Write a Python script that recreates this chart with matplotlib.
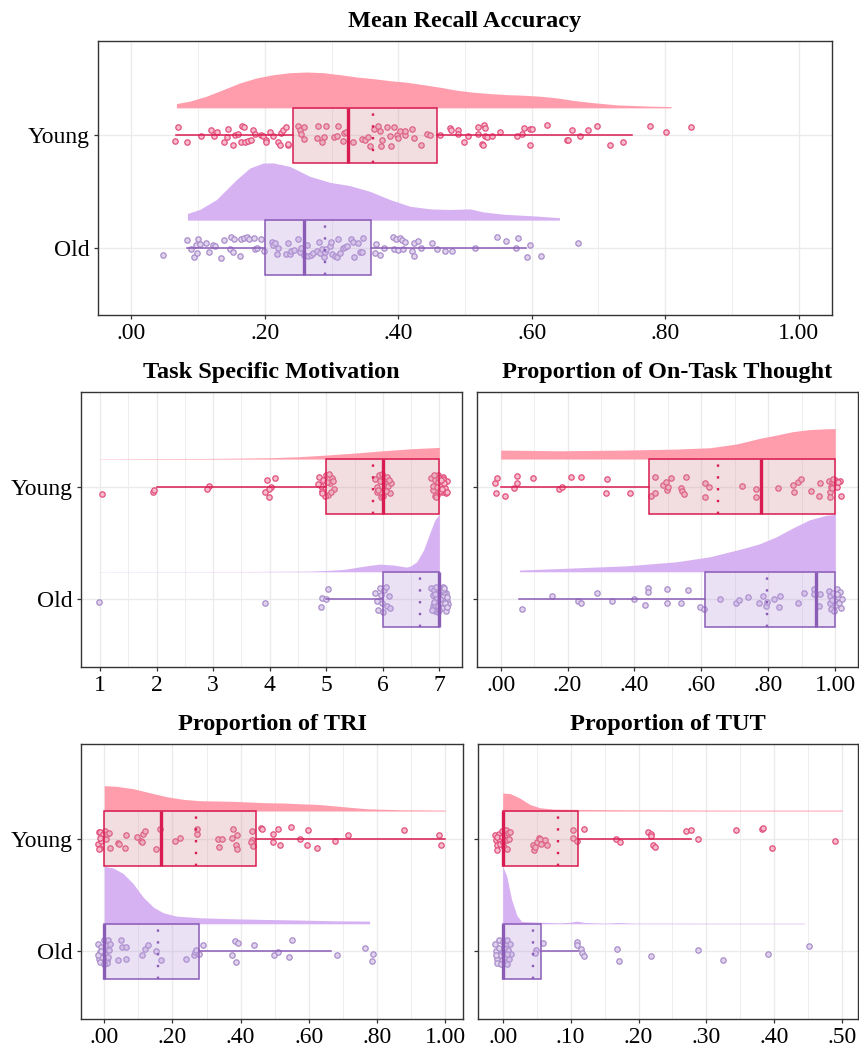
import numpy as np
import matplotlib.pyplot as plt

plt.rcParams['font.family'] = ['Liberation Serif', 'DejaVu Serif']

groups = ["Young", "Old"]

# ---- Mean Recall Accuracy: (score, vertical jitter) ----
mra_young_pts = [
    (0.070, 0.071), (0.065, -0.048), (0.084, -0.063), (0.104, -0.003), (0.119, 0.051),
    (0.124, -0.009), (0.128, 0.027), (0.139, -0.060), (0.143, -0.015), (0.145, 0.057),
    (0.153, -0.089), (0.156, 0.006), (0.160, 0.012), (0.166, 0.086), (0.169, 0.074),
    (0.165, -0.063), (0.170, -0.063), (0.175, -0.054), (0.179, -0.045), (0.183, 0.045),
    (0.186, 0.012), (0.194, 0.006), (0.198, -0.003), (0.202, -0.039), (0.202, -0.060),
    (0.208, 0.030), (0.212, -0.003), (0.220, -0.060), (0.222, -0.089), (0.224, 0.021),
    (0.227, 0.051), (0.232, 0.071), (0.235, -0.089), (0.235, -0.074), (0.250, 0.086),
    (0.253, 0.051), (0.254, 0.015), (0.259, 0.071), (0.258, -0.033), (0.279, 0.080),
    (0.291, 0.086), (0.278, -0.024), (0.288, -0.015), (0.285, -0.063), (0.303, -0.015),
    (0.309, 0.080), (0.308, -0.003), (0.317, -0.054), (0.319, 0.021), (0.322, 0.030),
    (0.332, -0.063), (0.345, -0.033), (0.350, -0.045), (0.354, -0.018), (0.357, -0.098),
    (0.364, 0.057), (0.369, 0.080), (0.373, 0.042), (0.375, -0.039), (0.374, -0.092),
    (0.383, 0.071), (0.388, -0.009), (0.389, -0.098), (0.394, 0.074), (0.398, 0.006),
    (0.399, -0.024), (0.402, 0.036), (0.410, 0.000), (0.410, 0.036), (0.420, 0.057),
    (0.423, -0.024), (0.434, -0.089), (0.443, 0.015), (0.448, 0.006), (0.462, 0.000),
    (0.478, 0.065), (0.479, 0.051), (0.490, 0.051), (0.490, 0.012), (0.498, -0.060),
    (0.505, -0.009), (0.520, 0.071), (0.520, 0.012), (0.525, -0.074), (0.527, -0.083),
    (0.529, 0.095), (0.530, 0.065), (0.530, -0.009), (0.533, -0.015), (0.540, -0.009),
    (0.553, 0.027), (0.578, -0.009), (0.585, 0.015), (0.588, 0.065), (0.597, 0.057),
    (0.600, 0.057), (0.597, -0.089), (0.623, 0.095), (0.653, -0.045), (0.655, -0.045),
    (0.660, 0.045), (0.672, -0.009), (0.685, 0.051), (0.698, 0.080), (0.718, -0.083),
    (0.737, -0.063), (0.777, 0.080), (0.801, 0.033), (0.838, 0.074),
]
mra_old_pts = [
    (0.048, -0.065), (0.084, 0.068), (0.090, -0.015), (0.094, -0.080), (0.097, 0.021),
    (0.099, -0.045), (0.100, 0.080), (0.103, 0.030), (0.112, 0.045), (0.117, -0.036),
    (0.123, 0.024), (0.125, 0.015), (0.135, -0.089), (0.139, 0.065), (0.148, -0.015),
    (0.149, 0.095), (0.153, -0.036), (0.154, 0.074), (0.163, -0.074), (0.164, 0.080),
    (0.169, 0.089), (0.173, 0.095), (0.177, 0.080), (0.184, 0.089), (0.185, -0.009),
    (0.188, 0.000), (0.195, 0.074), (0.199, -0.030), (0.210, 0.051), (0.212, 0.021),
    (0.215, 0.045), (0.218, -0.060), (0.219, 0.000), (0.232, -0.060), (0.235, 0.045),
    (0.238, -0.060), (0.239, -0.030), (0.243, -0.021), (0.250, 0.080), (0.253, -0.039),
    (0.254, 0.000), (0.258, -0.068), (0.263, 0.021), (0.265, -0.074), (0.269, -0.068),
    (0.272, -0.051), (0.278, -0.030), (0.281, 0.051), (0.283, -0.045), (0.285, -0.009),
    (0.288, -0.080), (0.290, -0.036), (0.292, -0.009), (0.297, 0.015), (0.299, 0.051),
    (0.300, -0.060), (0.305, -0.074), (0.308, -0.080), (0.309, 0.074), (0.313, -0.051),
    (0.317, 0.000), (0.320, 0.009), (0.323, 0.015), (0.329, 0.080), (0.332, 0.051),
    (0.334, -0.080), (0.339, 0.045), (0.343, -0.039), (0.345, -0.036), (0.347, 0.089),
    (0.367, 0.036), (0.365, -0.051), (0.373, -0.065), (0.378, 0.000), (0.392, 0.095),
    (0.393, -0.009), (0.397, 0.080), (0.399, -0.021), (0.403, 0.089), (0.405, 0.068),
    (0.407, -0.015), (0.410, 0.054), (0.420, -0.030), (0.423, 0.045), (0.424, -0.074),
    (0.430, 0.060), (0.434, 0.000), (0.450, 0.045), (0.458, -0.015), (0.470, -0.030),
    (0.480, -0.030), (0.515, 0.000), (0.548, 0.095), (0.562, 0.060), (0.577, 0.000),
    (0.580, 0.089), (0.593, -0.080), (0.597, 0.021), (0.614, -0.074), (0.669, 0.045),
]
# box summaries: whisker low, q1, median, q3, whisker high, mean
mra_young_box = [0.0675, 0.2425, 0.325, 0.4585, 0.750, 0.3625]
mra_old_box = [0.084, 0.200, 0.258, 0.359, 0.592, 0.2905]
# density curves: score grid and density scaled to the panel's tallest peak
mra_young_dx = [0.0675, 0.0875, 0.1125, 0.1375, 0.1625, 0.1875, 0.2125, 0.2375, 0.2625,
                0.2875, 0.3125, 0.3375, 0.3625, 0.3875, 0.4125, 0.4375, 0.4625, 0.4875,
                0.5125, 0.5375, 0.5625, 0.5875, 0.6125, 0.6375, 0.6625, 0.6875, 0.7275,
                0.7775, 0.8085]
mra_young_dy = [0.075, 0.117, 0.203, 0.318, 0.435, 0.522, 0.579, 0.614, 0.626,
                0.614, 0.579, 0.539, 0.510, 0.475, 0.447, 0.405, 0.360, 0.308,
                0.273, 0.249, 0.231, 0.221, 0.203, 0.174, 0.130, 0.096, 0.052,
                0.030, 0.023]
mra_old_dx = [0.084, 0.1024, 0.1275, 0.1425, 0.1575, 0.1775, 0.1974, 0.2124, 0.2374,
              0.2674, 0.2974, 0.3274, 0.3574, 0.3874, 0.4174, 0.4474, 0.4774, 0.5074,
              0.5275, 0.5575, 0.6025, 0.6415]
mra_old_dy = [0.117, 0.186, 0.360, 0.534, 0.708, 0.910, 0.997, 1.000, 0.939,
              0.765, 0.661, 0.603, 0.504, 0.360, 0.243, 0.197, 0.186, 0.197,
              0.144, 0.104, 0.075, 0.043]

# ---- Task Specific Motivation ----
tsm_young_pts = [
    (1.03, -0.065), (1.93, -0.050), (1.95, -0.030), (2.92, 0.010), (2.90, -0.020),
    (3.95, 0.060), (4.09, 0.080), (4.03, -0.006), (3.98, -0.020), (3.91, -0.050),
    (3.99, -0.090),
    (4.88, 0.09), (4.92, -0.04), (4.95, 0.06), (4.99, 0.10), (5.03, -0.07), (5.07, 0.03),
    (5.11, 0.08), (5.14, -0.02), (4.90, 0.01), (4.97, -0.08), (5.05, 0.11), (5.12, 0.05),
    (4.93, -0.06), (5.01, 0.04), (5.09, -0.05), (4.86, 0.02),
    (5.87, 0.07), (5.90, -0.05), (5.93, 0.10), (5.96, -0.09), (6.00, 0.04), (6.03, -0.02),
    (6.06, 0.08), (6.10, 0.01), (6.13, -0.06), (5.89, 0.00), (5.95, 0.05), (6.01, -0.08),
    (6.08, 0.09), (6.14, 0.03), (5.92, -0.03), (5.98, 0.11), (6.05, -0.04), (6.11, 0.06),
    (6.86, 0.08), (6.89, -0.03), (6.92, 0.06), (6.95, -0.07), (6.98, 0.10), (7.01, 0.02),
    (7.04, -0.05), (7.07, 0.09), (7.10, -0.01), (7.13, 0.05), (6.88, 0.01), (6.93, -0.08),
    (6.97, 0.04), (7.02, -0.04), (7.06, 0.07), (7.11, -0.06), (6.90, 0.10), (6.96, 0.00),
    (7.00, 0.08), (7.05, -0.02), (7.09, 0.03), (7.14, -0.05), (6.94, -0.09), (7.03, 0.06),
]
tsm_old_pts = [
    (0.98, -0.020), (3.92, -0.035), (5.04, 0.090), (4.92, 0.010), (5.00, 0.000),
    (4.91, -0.065),
    (5.87, 0.06), (5.91, -0.09), (5.95, 0.10), (5.99, -0.03), (6.03, 0.08), (6.07, -0.06),
    (6.11, 0.03), (5.89, -0.01), (5.97, 0.04), (6.05, 0.11), (6.13, -0.08), (6.01, -0.11),
    (6.86, 0.10), (6.88, -0.06), (6.90, 0.03), (6.92, -0.10), (6.94, 0.07), (6.96, -0.02),
    (6.98, 0.09), (7.00, -0.08), (7.02, 0.05), (7.04, -0.04), (7.06, 0.11), (7.08, 0.00),
    (7.10, -0.07), (7.12, 0.06), (7.14, -0.01), (6.87, -0.09), (6.89, 0.04), (6.91, 0.08),
    (6.93, -0.05), (6.95, 0.01), (6.97, -0.11), (6.99, 0.06), (7.01, 0.09), (7.03, -0.03),
    (7.05, -0.08), (7.07, 0.03), (7.09, 0.07), (7.11, -0.10), (7.13, 0.02), (7.15, -0.04),
    (6.90, -0.02), (6.94, 0.11), (6.98, -0.06), (7.02, 0.00), (7.06, 0.08), (7.10, -0.03),
    (6.92, 0.05), (7.00, -0.09), (7.08, 0.10), (7.13, -0.07),
]
tsm_young_box = [2.0, 5.0, 6.0, 7.0, 7.0, 5.83]
tsm_old_box = [5.0, 6.0, 7.0, 7.0, 7.0, 6.65]
tsm_young_dx = [1.0, 2.0, 3.0, 3.5, 4.0, 4.5, 5.0, 5.5, 6.0, 6.5, 7.0]
tsm_young_dy = [0.005, 0.009, 0.012, 0.017, 0.023, 0.040, 0.070, 0.104, 0.144, 0.179, 0.203]
tsm_old_dx = [1.0, 3.5, 4.71, 5.0, 5.30, 5.60, 5.75, 5.95, 6.19, 6.42, 6.50, 6.60, 6.72,
              6.84, 6.92, 7.0]
tsm_old_dy = [0.003, 0.005, 0.012, 0.023, 0.040, 0.087, 0.110, 0.134, 0.117, 0.082, 0.104,
              0.174, 0.377, 0.696, 0.899, 1.000]

# ---- Proportion of On-Task Thought ----
ott_young_pts = [
    (-0.017, 0.035), (-0.012, 0.074), (-0.014, -0.059), (0.013, -0.080), (0.040, -0.015),
    (0.048, 0.097), (0.050, 0.029), (0.098, 0.074), (0.175, -0.024), (0.182, -0.006),
    (0.210, 0.086), (0.240, 0.083), (0.319, 0.065), (0.316, -0.059), (0.388, -0.059),
    (0.448, -0.080), (0.461, -0.059), (0.461, 0.088), (0.486, 0.015), (0.494, 0.044),
    (0.498, -0.029), (0.500, 0.000), (0.508, 0.080), (0.540, -0.009), (0.543, -0.038),
    (0.547, -0.065), (0.553, 0.083), (0.610, 0.035), (0.610, -0.088), (0.623, -0.006),
    (0.722, 0.006), (0.762, -0.024), (0.762, -0.094), (0.829, -0.015), (0.874, 0.015),
    (0.877, -0.044), (0.889, 0.044), (0.899, 0.065), (0.928, -0.038), (0.953, 0.029),
    (0.950, -0.080), (0.981, 0.053), (0.983, -0.044), (0.985, -0.088), (0.988, 0.000),
    (0.991, 0.044), (0.995, 0.029), (0.998, 0.059), (1.001, 0.015), (1.005, -0.006),
    (1.013, 0.053), (1.016, -0.083), (0.991, -0.015), (0.993, 0.065), (1.008, 0.044),
]
ott_old_pts = [
    (0.063, -0.083), (0.154, 0.029), (0.232, -0.015), (0.239, -0.035), (0.289, 0.053),
    (0.334, -0.015), (0.398, 0.000), (0.431, -0.050), (0.439, 0.103), (0.439, 0.065),
    (0.496, 0.088), (0.498, -0.029), (0.540, -0.029), (0.560, 0.083), (0.595, -0.068),
    (0.608, -0.083), (0.655, 0.000), (0.704, -0.035), (0.712, -0.006), (0.739, 0.021),
    (0.771, -0.029), (0.784, 0.029), (0.794, -0.059), (0.796, -0.021), (0.816, 0.000),
    (0.832, -0.068), (0.836, 0.029), (0.889, -0.029), (0.906, 0.053), (0.935, 0.094),
    (0.935, 0.044), (0.950, -0.059), (0.955, 0.044),
    (0.981, 0.074), (0.985, 0.029), (0.983, -0.029), (0.988, -0.083), (0.993, 0.059),
    (0.998, 0.000), (1.001, -0.053), (1.004, 0.094), (1.009, 0.024), (1.012, -0.029),
    (1.014, 0.065), (1.017, -0.074), (1.019, 0.006), (0.991, -0.006), (1.006, 0.050),
    (0.995, -0.103),
]
ott_young_box = [0.0, 0.444, 0.779, 1.0, 1.0, 0.650]
ott_old_box = [0.056, 0.611, 0.943, 1.0, 1.0, 0.796]
ott_young_dx = [0.0, 0.177, 0.376, 0.525, 0.625, 0.704, 0.774, 0.824, 0.874, 0.923,
                0.973, 1.0]
ott_young_dy = [0.157, 0.144, 0.157, 0.174, 0.197, 0.261, 0.360, 0.417, 0.478, 0.513,
                0.527, 0.530]
ott_old_dx = [0.056, 0.177, 0.376, 0.525, 0.625, 0.724, 0.774, 0.824, 0.874, 0.923,
              0.973, 1.0]
ott_old_dy = [0.030, 0.057, 0.104, 0.174, 0.261, 0.405, 0.487, 0.609, 0.765, 0.904,
              0.983, 1.000]

# ---- Proportion of TRI ----
tri_young_pts = [
    (-0.015, 0.062), (-0.011, 0.062), (-0.017, -0.050), (-0.013, -0.079), (-0.015, -0.094),
    (-0.008, -0.021), (-0.003, 0.038), (0.002, 0.068), (0.005, 0.000), (0.009, 0.038),
    (0.015, 0.053), (-0.013, 0.009), (0.017, -0.079), (0.064, 0.032), (0.061, -0.079),
    (0.041, -0.035), (0.044, -0.050), (0.097, 0.015), (0.107, -0.021), (0.110, -0.026),
    (0.113, 0.038), (0.119, 0.068), (0.152, -0.094), (0.165, 0.082), (0.207, -0.021),
    (0.222, 0.003), (0.271, 0.044), (0.273, 0.082), (0.333, 0.000), (0.344, -0.006),
    (0.338, -0.074), (0.376, 0.009), (0.379, 0.088), (0.388, 0.032), (0.387, -0.059),
    (0.388, -0.088), (0.432, -0.015), (0.430, -0.026), (0.432, 0.068), (0.435, -0.065),
    (0.460, 0.091), (0.462, 0.082), (0.494, 0.044), (0.494, -0.029), (0.511, 0.082),
    (0.516, -0.059), (0.548, 0.103), (0.574, 0.000), (0.596, -0.056), (0.599, 0.074),
    (0.625, -0.079), (0.677, -0.021), (0.716, 0.029), (0.878, 0.076), (0.983, 0.035),
    (0.987, -0.059),
]
tri_old_pts = [
    (-0.018, 0.068), (-0.015, -0.065), (-0.013, -0.094), (-0.011, -0.006), (-0.008, 0.038),
    (-0.005, -0.050), (-0.001, 0.097), (0.002, -0.021), (0.005, 0.053), (0.007, -0.079),
    (0.012, 0.097), (0.015, 0.015), (0.017, 0.068), (0.012, -0.050), (0.009, -0.103),
    (-0.001, -0.109), (-0.017, -0.035), (-0.008, 0.003), (0.041, -0.074), (0.048, 0.097),
    (0.051, 0.038), (0.064, 0.038), (0.064, -0.065), (0.110, -0.035), (0.119, 0.024),
    (0.129, 0.053), (0.152, 0.003), (0.166, -0.074), (0.240, -0.065), (0.263, -0.035),
    (0.266, -0.006), (0.269, 0.009), (0.279, -0.021), (0.289, 0.053), (0.374, -0.029),
    (0.384, 0.088), (0.393, 0.076), (0.386, -0.091), (0.439, 0.059), (0.498, -0.029),
    (0.511, -0.006), (0.543, -0.050), (0.551, 0.097), (0.684, -0.035), (0.765, 0.029),
    (0.788, -0.021), (0.785, -0.085),
]
tri_young_box = [0.0, 0.0, 0.167, 0.445, 1.0, 0.269]
tri_old_box = [0.0, 0.0, 0.0, 0.278, 0.665, 0.158]
tri_young_dx = [0.0, 0.036, 0.085, 0.134, 0.183, 0.232, 0.281, 0.330, 0.379, 0.428,
                0.477, 0.525, 0.574, 0.623, 0.672, 0.721, 0.770, 0.868, 1.0]
tri_young_dy = [0.442, 0.431, 0.389, 0.319, 0.250, 0.204, 0.180, 0.175, 0.169, 0.157,
                0.145, 0.140, 0.127, 0.117, 0.092, 0.065, 0.040, 0.023, 0.017]
tri_old_dx = [0.0, 0.026, 0.056, 0.085, 0.114, 0.144, 0.173, 0.212, 0.281, 0.379,
              0.477, 0.574, 0.672, 0.778]
tri_old_dy = [1.000, 0.972, 0.873, 0.698, 0.466, 0.291, 0.192, 0.134, 0.105, 0.087,
              0.075, 0.065, 0.052, 0.047]

# ---- Proportion of TUT ----
tut_young_pts = [
    (-0.011, 0.029), (-0.010, -0.015), (-0.009, -0.059), (-0.008, -0.097), (-0.006, 0.044),
    (-0.005, 0.000), (-0.004, -0.044), (-0.001, 0.068), (0.000, -0.029), (0.002, -0.074),
    (0.003, 0.029), (0.005, 0.079), (0.006, -0.015), (0.007, -0.088), (0.008, 0.050),
    (0.010, 0.000), (0.011, 0.059), (-0.009, 0.015), (-0.001, 0.015), (0.044, -0.059),
    (0.046, -0.097), (0.048, -0.074), (0.051, -0.029), (0.054, 0.009), (0.055, 0.000),
    (0.057, -0.044), (0.062, -0.009), (0.065, -0.059), (0.104, 0.074), (0.104, 0.006),
    (0.109, -0.024), (0.120, 0.088), (0.167, 0.000), (0.173, -0.029), (0.214, 0.059),
    (0.218, 0.044), (0.219, 0.021), (0.222, -0.059), (0.224, -0.074), (0.270, 0.068),
    (0.277, 0.079), (0.287, -0.006), (0.343, 0.079), (0.382, 0.088), (0.384, 0.097),
    (0.397, -0.079), (0.490, -0.021),
]
tut_old_pts = [
    (-0.011, 0.068), (-0.010, 0.003), (-0.009, -0.065), (-0.008, -0.103), (-0.006, 0.097),
    (-0.005, 0.032), (-0.004, -0.035), (-0.001, -0.079), (0.000, 0.082), (0.001, -0.006),
    (0.003, -0.050), (0.005, 0.053), (0.006, -0.109), (0.007, 0.097), (0.008, 0.015),
    (0.010, -0.065), (0.011, 0.068), (0.012, -0.021), (-0.010, -0.035), (-0.003, -0.109),
    (0.002, 0.032), (0.006, -0.021), (0.049, 0.015), (0.048, -0.015), (0.059, 0.074),
    (0.109, 0.082), (0.109, 0.053), (0.115, 0.021), (0.117, -0.015), (0.120, -0.044),
    (0.168, 0.021), (0.171, -0.088), (0.219, -0.038), (0.287, 0.012), (0.325, -0.076),
    (0.390, -0.026), (0.451, 0.047),
]
tut_young_box = [0.0, 0.0, 0.0, 0.111, 0.277, 0.081]
tut_old_box = [0.0, 0.0, 0.0, 0.056, 0.111, 0.044]
tut_young_dx = [0.0, 0.011, 0.025, 0.040, 0.055, 0.075, 0.109, 0.182, 0.329, 0.5]
tut_young_dy = [0.314, 0.304, 0.228, 0.115, 0.057, 0.034, 0.029, 0.022, 0.017, 0.017]
tut_old_dx = [0.0, 0.006, 0.013, 0.021, 0.028, 0.050, 0.084, 0.099, 0.109, 0.121,
              0.150, 0.170, 0.195, 0.445]
tut_old_dy = [1.000, 0.828, 0.429, 0.142, 0.039, 0.029, 0.017, 0.026, 0.046, 0.022,
              0.012, 0.022, 0.012, 0.010]

# colours per group
young_col = dict(dens='#FF9DAD', box=(0.83, 0.57, 0.62, 0.3), edge='#D81B50',
                 pt_edge='#E2507E', pt_fill='#F7BCCB')
old_col = dict(dens='#D7B2F3', box=(0.74, 0.61, 0.87, 0.3), edge='#8A5CB6',
               pt_edge='#A98DCB', pt_fill='#E0D3EE')

BOX_W = 0.49
MAX_H = 0.51


def raincloud(ax, young, old):
    # young / old: (points, box stats, density x, density height)
    for (pts, box, dx, dy), pos, col in zip((young, old), (2, 1), (young_col, old_col)):
        base = pos + BOX_W / 2
        dy = np.asarray(dy)
        ax.fill_between(dx, base, base + dy * MAX_H, color=col['dens'], lw=0, zorder=2)

        xs = [p[0] for p in pts]
        ys = [pos + p[1] for p in pts]
        ax.scatter(xs, ys, s=15, facecolor=col['pt_fill'], edgecolor=col['pt_edge'],
                   linewidths=0.9, zorder=3)

        wlo, q1, med, q3, whi, mean = box
        stats = [dict(whislo=wlo, q1=q1, med=med, q3=q3, whishi=whi, mean=mean,
                      fliers=[])]
        ax.bxp(stats, positions=[pos], widths=BOX_W, orientation='horizontal',
               patch_artist=True, showcaps=False, showmeans=True, meanline=True,
               manage_ticks=False, zorder=4,
               boxprops=dict(facecolor=col['box'], edgecolor=col['edge'], lw=1.1),
               whiskerprops=dict(color=col['edge'], lw=1.1),
               medianprops=dict(color=col['edge'], lw=2.4, solid_capstyle='butt'),
               meanprops=dict(color=col['edge'], lw=1.7, linestyle=(0, (1.0, 4.0)),
                              dash_capstyle='butt'))


def style(ax, title, ticks, labels, minor, xlim, ylabels=True):
    ax.set_xlim(xlim)
    ax.set_ylim(0.4, 2.84)
    ax.set_xticks(ticks)
    ax.set_xticklabels(labels)
    ax.set_xticks(minor, minor=True)
    ax.set_yticks([2, 1])
    ax.set_yticklabels(groups if ylabels else [])
    ax.grid(which='major', color='#EBEBEB', lw=1.0)
    ax.grid(which='minor', axis='x', color='#EBEBEB', lw=0.6)
    ax.set_axisbelow(True)
    ax.tick_params(which='major', length=3, width=0.9, color='#333333',
                   labelsize=17, pad=3)
    ax.tick_params(which='minor', length=0)
    for sp in ax.spines.values():
        sp.set_color('#333333')
        sp.set_linewidth(1.0)
    ax.set_title(title, fontsize=17.5, fontweight='bold', pad=10)


fig = plt.figure(figsize=(8.59, 10.47), dpi=100)

ax1 = fig.add_axes([0.1141, 0.6991, 0.8545, 0.2617])
raincloud(ax1, (mra_young_pts, mra_young_box, mra_young_dx, mra_young_dy),
          (mra_old_pts, mra_old_box, mra_old_dx, mra_old_dy))
style(ax1, "Mean Recall Accuracy", [0, 0.2, 0.4, 0.6, 0.8, 1.0],
      [".00", ".20", ".40", ".60", ".80", "1.00"], [0.1, 0.3, 0.5, 0.7, 0.9],
      (-0.05, 1.05))

ax2 = fig.add_axes([0.0943, 0.3629, 0.4435, 0.2627])
raincloud(ax2, (tsm_young_pts, tsm_young_box, tsm_young_dx, tsm_young_dy),
          (tsm_old_pts, tsm_old_box, tsm_old_dx, tsm_old_dy))
style(ax2, "Task Specific Motivation", [1, 2, 3, 4, 5, 6, 7],
      ["1", "2", "3", "4", "5", "6", "7"], [1.5, 2.5, 3.5, 4.5, 5.5, 6.5],
      (0.664, 7.40))

ax3 = fig.add_axes([0.5553, 0.3629, 0.4430, 0.2627])
raincloud(ax3, (ott_young_pts, ott_young_box, ott_young_dx, ott_young_dy),
          (ott_old_pts, ott_old_box, ott_old_dx, ott_old_dy))
style(ax3, "Proportion of On-Task Thought", [0, 0.2, 0.4, 0.6, 0.8, 1.0],
      [".00", ".20", ".40", ".60", ".80", "1.00"], [0.1, 0.3, 0.5, 0.7, 0.9],
      (-0.0707, 1.0666), ylabels=False)

ax4 = fig.add_axes([0.0943, 0.0267, 0.4447, 0.2627])
raincloud(ax4, (tri_young_pts, tri_young_box, tri_young_dx, tri_young_dy),
          (tri_old_pts, tri_old_box, tri_old_dx, tri_old_dy))
style(ax4, "Proportion of TRI", [0, 0.2, 0.4, 0.6, 0.8, 1.0],
      [".00", ".20", ".40", ".60", ".80", "1.00"], [0.1, 0.3, 0.5, 0.7, 0.9],
      (-0.068, 1.052))

ax5 = fig.add_axes([0.5565, 0.0267, 0.4418, 0.2627])
raincloud(ax5, (tut_young_pts, tut_young_box, tut_young_dx, tut_young_dy),
          (tut_old_pts, tut_old_box, tut_old_dx, tut_old_dy))
style(ax5, "Proportion of TUT", [0, 0.1, 0.2, 0.3, 0.4, 0.5],
      [".00", ".10", ".20", ".30", ".40", ".50"], [0.05, 0.15, 0.25, 0.35, 0.45],
      (-0.0363, 0.5225), ylabels=False)

fig.savefig("out.png", dpi=100)
